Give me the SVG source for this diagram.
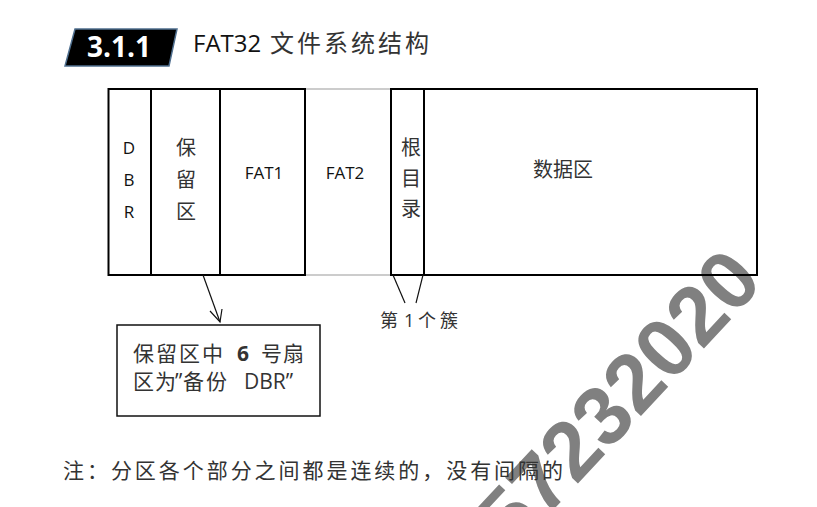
<svg xmlns="http://www.w3.org/2000/svg" width="817" height="507" viewBox="0 0 817 507">
<style>
.cell{fill:none;stroke:#000;stroke-width:2}
.lat{font-family:"Open Sans","Liberation Sans",sans-serif;fill:#111}
.cjk{font-family:"Noto Sans CJK SC",sans-serif;fill:#333}
.ln{stroke:#111;stroke-width:1.2;fill:none}
.mid{text-anchor:middle}
</style>
<rect width="817" height="507" fill="#fff"/>
<g id="watermark">
<text transform="translate(765,283) rotate(-47)" text-anchor="end" font-family="Liberation Sans,Arial,sans-serif" font-weight="bold" font-size="83" fill="#808080">957232020</text>
</g>
<g id="title">
<polygon points="75,29 177,29 169,66 65,66" fill="#000" stroke="#4f6f8f" stroke-width="1.5"/>
<text x="87" y="57" font-family="Open Sans,Liberation Sans,sans-serif" font-weight="bold" font-size="28" fill="#fff">3.1.1</text>
<text x="193" y="52" class="lat" font-size="24">FAT32</text>
<text x="270" y="52" class="cjk" font-size="24" letter-spacing="3" fill="#222">文件系统结构</text>
</g>
<g id="fat2">
<rect x="305" y="89" width="86" height="186" fill="none" stroke="#999" stroke-width="1"/>
<text x="345" y="179" class="lat mid" font-size="17">FAT2</text>
</g>
<g id="dbr">
<rect x="108.5" y="89" width="42.5" height="186" class="cell"/>
<text x="129" y="154" class="lat mid" font-size="17">D</text>
<text x="129" y="186" class="lat mid" font-size="17">B</text>
<text x="129" y="218" class="lat mid" font-size="17">R</text>
</g>
<g id="reserved">
<rect x="151" y="89" width="69" height="186" class="cell"/>
<text x="186" y="155" class="cjk mid" font-size="20">保</text>
<text x="186" y="187" class="cjk mid" font-size="20">留</text>
<text x="186" y="219" class="cjk mid" font-size="20">区</text>
</g>
<g id="fat1">
<rect x="220" y="89" width="85" height="186" class="cell"/>
<text x="264" y="179" class="lat mid" font-size="17">FAT1</text>
</g>
<g id="rootdir">
<rect x="391" y="89" width="33" height="186" class="cell"/>
<text x="411" y="155" class="cjk mid" font-size="20">根</text>
<text x="411" y="186" class="cjk mid" font-size="20">目</text>
<text x="411" y="216" class="cjk mid" font-size="20">录</text>
</g>
<g id="data">
<rect x="424" y="89" width="333" height="186" class="cell"/>
<text x="563" y="177" class="cjk mid" font-size="20">数据区</text>
</g>
<g id="connectors">
<line x1="203" y1="275" x2="220" y2="322" class="ln"/>
<polyline points="210,311 220,322 222,309" class="ln"/>
<line x1="393" y1="275" x2="405" y2="303" class="ln"/>
<line x1="423" y1="275" x2="416" y2="303" class="ln"/>
</g>
<g id="callout">
<rect x="117" y="325" width="203" height="91" fill="#fff" stroke="#111" stroke-width="1.5"/>
<text y="361" class="cjk" font-size="21" fill="#222"><tspan x="133">保</tspan><tspan x="156">留</tspan><tspan x="179">区</tspan><tspan x="202">中</tspan><tspan x="237" font-family="Open Sans,Liberation Sans,sans-serif" font-weight="bold">6</tspan><tspan x="261">号</tspan><tspan x="283">扇</tspan></text>
<text y="389" class="cjk" font-size="21" fill="#222"><tspan x="133">区</tspan><tspan x="155">为</tspan><tspan x="175" font-family="Open Sans,Liberation Sans,sans-serif">”</tspan><tspan x="183">备</tspan><tspan x="206">份</tspan><tspan x="244" font-family="Open Sans,Liberation Sans,sans-serif">DBR”</tspan></text>
</g>
<g id="cluster1">
<text y="327" class="cjk" font-size="18" fill="#222"><tspan x="380">第</tspan><tspan x="404" font-family="Open Sans,Liberation Sans,sans-serif">1</tspan><tspan x="418">个</tspan><tspan x="440">簇</tspan></text>
</g>
<g id="note">
<text x="63" y="478" class="cjk" font-size="21" fill="#111" textLength="500" lengthAdjust="spacing">注：分区各个部分之间都是连续的，没有间隔的</text>
</g>
</svg>
